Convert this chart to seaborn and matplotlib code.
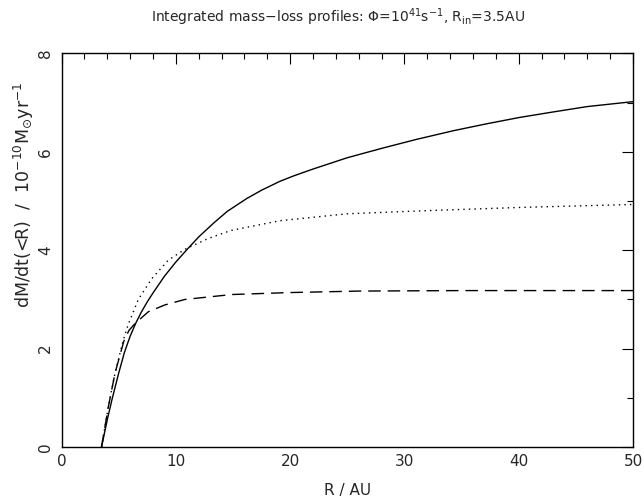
import numpy as np
import pandas as pd
import matplotlib
matplotlib.use("Agg")
import matplotlib.pyplot as plt
from matplotlib.ticker import MultipleLocator
import seaborn as sns

# values
r_solid = [3.5, 4.0, 4.4, 5.0, 5.5, 6.0, 6.5, 7.0, 7.5, 8.0, 9.0, 10.0, 11.0,
           12.0, 13.3, 14.5, 16.2, 17.5, 19.1, 20.3, 22.0, 25.0, 28.0, 31.0,
           34.3, 37.2, 40.1, 43.0, 46.0, 50.0]
m_solid = [0.0, 0.55, 0.95, 1.5, 1.92, 2.25, 2.52, 2.75, 2.95, 3.13, 3.47, 3.76,
           4.02, 4.27, 4.55, 4.79, 5.05, 5.22, 5.4, 5.51, 5.65, 5.88, 6.07, 6.25,
           6.43, 6.57, 6.7, 6.81, 6.92, 7.02]

r_dotted = [3.5, 4.1, 4.68, 5.4, 5.85, 6.72, 7.89, 9.35, 10.8, 12.85, 14.8,
            19.1, 24.95, 31.4, 40.1, 50.0]
m_dotted = [0.0, 0.82, 1.5, 2.17, 2.5, 3.0, 3.42, 3.8, 4.02, 4.24, 4.4,
            4.6, 4.74, 4.8, 4.87, 4.93]

r_dashed = [3.5, 4.1, 4.68, 5.45, 5.9, 6.43, 7.6, 9.06, 10.8, 12.85, 14.9,
            20.0, 26.0, 35.0, 50.0]
m_dashed = [0.0, 0.82, 1.5, 2.15, 2.37, 2.51, 2.75, 2.89, 3.0, 3.05, 3.1,
            3.14, 3.17, 3.18, 3.18]

sns.set_style("white")
plt.rcParams["font.family"] = ["DejaVu Sans"]
plt.rcParams["mathtext.fontset"] = "dejavusans"

fig = plt.figure(figsize=(6.44, 5.04), dpi=100)
ax = fig.add_axes([0.0955, 0.113, 0.8875, 0.781])

sns.lineplot(x=r_solid, y=m_solid, color="black", linewidth=1.0, ax=ax)
sns.lineplot(x=r_dotted, y=m_dotted, color="black", linewidth=1.0,
             linestyle=(0, (1, 3)), ax=ax)
sns.lineplot(x=r_dashed, y=m_dashed, color="black", linewidth=1.0,
             linestyle=(0, (9, 5)), ax=ax)

ax.set_xlim(0, 50)
ax.set_ylim(0, 8)
ax.xaxis.set_major_locator(MultipleLocator(10))
ax.xaxis.set_minor_locator(MultipleLocator(2))
ax.yaxis.set_major_locator(MultipleLocator(2))
ax.yaxis.set_minor_locator(MultipleLocator(1))
ax.tick_params(which="both", direction="in", top=True, right=True,
               color="black", width=0.8, labelsize=11)
ax.tick_params(which="major", length=8)
ax.tick_params(which="minor", length=4)
ax.tick_params(axis="x", pad=5)
ax.tick_params(axis="y", pad=6)
for lab in ax.get_yticklabels():
    lab.set_rotation(90)
    lab.set_va("center")
for sp in ax.spines.values():
    sp.set_color("black")
    sp.set_linewidth(1.0)

ax.set_xlabel("R / AU", fontsize=11)
ax.xaxis.set_label_coords(0.5, -0.092)
ax.set_ylabel(r"dM/dt(<R)  /  10$^{-10}$M$_{\odot}$yr$^{-1}$", fontsize=12.5)
ax.yaxis.set_label_coords(-0.045, 0.64)
fig.text(0.525, 0.966,
         r"Integrated mass$-$loss profiles: $\Phi$=10$^{41}$s$^{-1}$, R$_{\rm in}$=3.5AU",
         fontsize=10, ha="center", va="center")

fig.savefig("out.png", dpi=100)
